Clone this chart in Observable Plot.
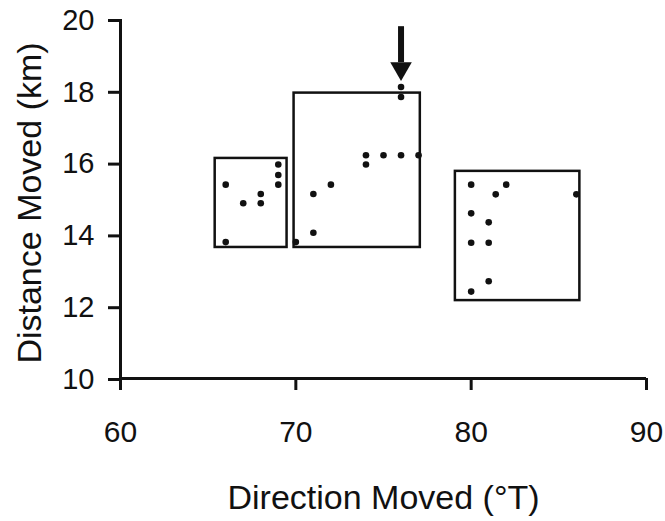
<!DOCTYPE html>
<html>
<head>
<meta charset="utf-8">
<script src="https://cdn.jsdelivr.net/npm/d3@7"></script>
<script src="https://cdn.jsdelivr.net/npm/@observablehq/plot@0.6"></script>
<style>
  html, body { margin: 0; padding: 0; background: #fff; }
  svg { display: block; }
</style>
</head>
<body>
<div id="chart"></div>
<script>
// Observations: direction moved (°T) and distance moved (km)
const direction = [66, 69, 69, 69, 68, 67, 68, 66, 70,
                   76, 76, 74, 75, 76, 77, 74, 72, 71, 71,
                   80, 82, 81.4, 86, 80, 81, 80, 81, 81, 80];
const distance  = [15.40, 15.96, 15.67, 15.40, 15.14, 14.88, 14.88, 13.80, 13.80,
                   18.12, 17.84, 16.22, 16.22, 16.22, 16.22, 15.96, 15.40, 15.14, 14.06,
                   15.40, 15.40, 15.13, 15.13, 14.60, 14.35, 13.78, 13.78, 12.71, 12.42];

// Group boxes
const boxX1 = [65.4, 69.9, 79.1];
const boxX2 = [69.5, 77.1, 86.2];
const boxY1 = [13.65, 13.65, 12.17];
const boxY2 = [16.13, 17.95, 15.77];

// Arrow annotation (x, tip, top of shaft, base of head)
const arrowX = [76];
const arrowTip = [18.3];
const arrowTop = [19.8];
const arrowHeadBase = [18.8];

const xTicks = [60, 70, 80, 90];
const yTicks = [10, 12, 14, 16, 18, 20];
const xTitle = "Direction Moved (°T)";
const yTitle = "Distance Moved (km)";

const points = direction.map((d, i) => ({x: d, y: distance[i]}));
const boxes = boxX1.map((d, i) => ({x1: d, x2: boxX2[i], y1: boxY1[i], y2: boxY2[i]}));
const arrows = arrowX.map((d, i) => ({x: d, tip: arrowTip[i], top: arrowTop[i], base: arrowHeadBase[i]}));

const ink = "#111";

const chart = Plot.plot({
  width: 665,
  height: 521,
  marginLeft: 120,
  marginRight: 19,
  marginTop: 19,
  marginBottom: 143,
  style: {fontFamily: "'Liberation Sans', Arial, sans-serif", color: ink, background: "#fff"},
  x: {domain: [60, 90]},
  y: {domain: [10, 20]},
  marks: [
    Plot.axisX({ticks: xTicks, tickSize: 12, tickPadding: 30, fontSize: 30, strokeWidth: 3, label: null, tickFormat: d => d}),
    Plot.axisY({ticks: yTicks, tickSize: 12, tickPadding: 14, fontSize: 29, strokeWidth: 3, label: null, dy: 1, tickFormat: d => d}),
    Plot.ruleY([10], {stroke: ink, strokeWidth: 3}),
    Plot.ruleX([60], {stroke: ink, strokeWidth: 3}),
    Plot.rect(boxes, {x1: "x1", x2: "x2", y1: "y1", y2: "y2", fill: "none", stroke: ink, strokeWidth: 2.5}),
    Plot.dot(points, {x: "x", y: "y", r: 3.3, fill: ink, stroke: "none"}),
    Plot.ruleX(arrows, {x: "x", y1: "top", y2: "base", stroke: ink, strokeWidth: 6}),
    Plot.dot(arrows, {x: "x", y: "tip", symbol: "triangle", rotate: 180, r: 8, dy: -12, fill: ink, stroke: "none"}),
    Plot.text([xTitle], {text: d => d, frameAnchor: "bottom", lineAnchor: "middle", textAnchor: "middle", dy: 120, fontSize: 34, fill: ink}),
    Plot.text([yTitle], {text: d => d, frameAnchor: "left", lineAnchor: "middle", textAnchor: "middle", dx: -90, dy: 4, rotate: -90, fontSize: 34, fill: ink})
  ]
});
document.getElementById("chart").appendChild(chart);
</script>
</body>
</html>
